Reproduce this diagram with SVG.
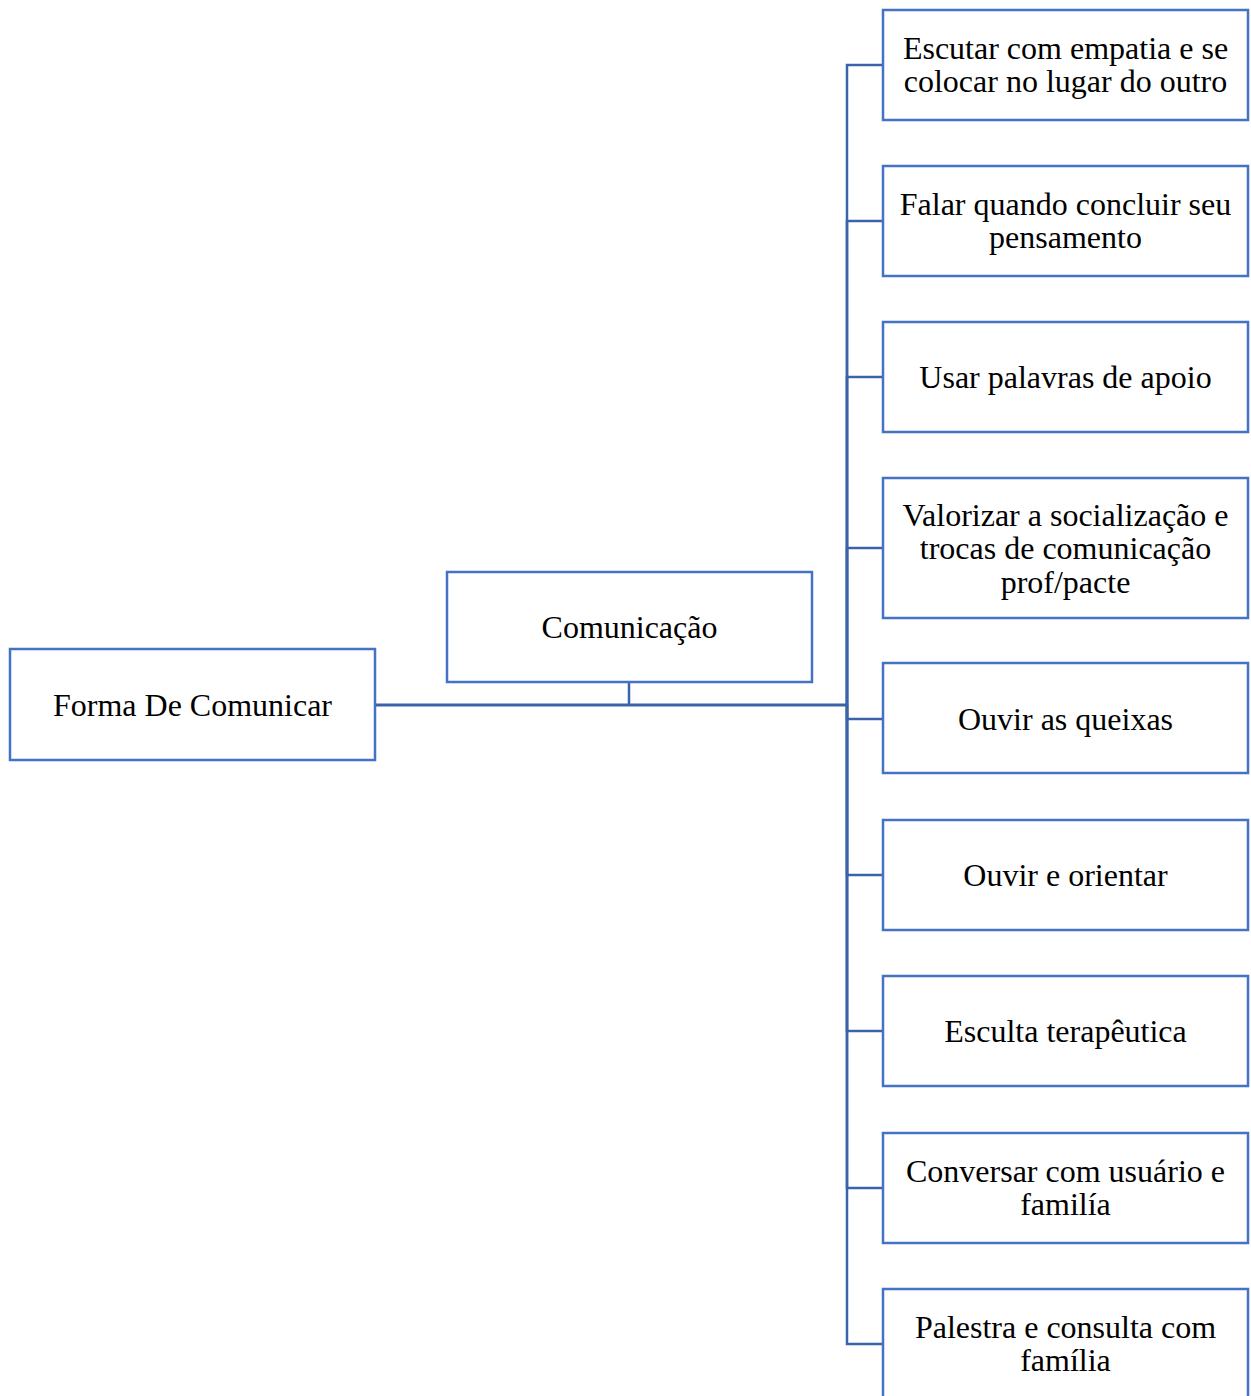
<svg xmlns="http://www.w3.org/2000/svg" width="1251" height="1396" viewBox="0 0 1251 1396">
<style>
.box{fill:#fff;stroke:#4472C4;stroke-width:2.5}
.t{font-family:"Liberation Serif","Times New Roman",serif;font-size:32px;fill:#000;text-anchor:middle}
.c{fill:none;stroke:#3B63A8;stroke-width:2.5}
</style>
<rect width="1251" height="1396" fill="#fff"/>
<g id="connectors">
<path class="c" d="M375 705 H847" style="stroke-width:3"/>
<path class="c" d="M629 682 V705"/>
<path class="c" d="M847 705 V65 H883"/>
<path class="c" d="M847 705 V221 H883"/>
<path class="c" d="M847 705 V377 H883"/>
<path class="c" d="M847 705 V548 H883"/>
<path class="c" d="M847 705 V719 H883"/>
<path class="c" d="M847 705 V875 H883"/>
<path class="c" d="M847 705 V1031 H883"/>
<path class="c" d="M847 705 V1188 H883"/>
<path class="c" d="M847 705 V1344 H883"/>
</g>
<g id="n-forma"><rect class="box" x="10" y="649" width="365" height="111"/><text class="t" x="192.5" y="716">Forma De Comunicar</text></g>
<g id="n-comunicacao"><rect class="box" x="447" y="572" width="365" height="110"/><text class="t" x="629.5" y="638">Comunicação</text></g>
<g id="n1"><rect class="box" x="883" y="10" width="365" height="110"/><text class="t" x="1065.5" y="59">Escutar com empatia e se</text><text class="t" x="1065.5" y="92">colocar no lugar do outro</text></g>
<g id="n2"><rect class="box" x="883" y="166" width="365" height="110"/><text class="t" x="1065.5" y="215">Falar quando concluir seu</text><text class="t" x="1065.5" y="248">pensamento</text></g>
<g id="n3"><rect class="box" x="883" y="322" width="365" height="110"/><text class="t" x="1065.5" y="388">Usar palavras de apoio</text></g>
<g id="n4"><rect class="box" x="883" y="478" width="365" height="140"/><text class="t" x="1065.5" y="526">Valorizar a socialização e</text><text class="t" x="1065.5" y="559">trocas de comunicação</text><text class="t" x="1065.5" y="593">prof/pacte</text></g>
<g id="n5"><rect class="box" x="883" y="663" width="365" height="110"/><text class="t" x="1065.5" y="730">Ouvir as queixas</text></g>
<g id="n6"><rect class="box" x="883" y="820" width="365" height="110"/><text class="t" x="1065.5" y="886">Ouvir e orientar</text></g>
<g id="n7"><rect class="box" x="883" y="976" width="365" height="110"/><text class="t" x="1065.5" y="1042">Esculta terapêutica</text></g>
<g id="n8"><rect class="box" x="883" y="1133" width="365" height="110"/><text class="t" x="1065.5" y="1182">Conversar com usuário e</text><text class="t" x="1065.5" y="1215">familía</text></g>
<g id="n9"><rect class="box" x="883" y="1289" width="365" height="110"/><text class="t" x="1065.5" y="1338">Palestra e consulta com</text><text class="t" x="1065.5" y="1371">família</text></g>
</svg>
